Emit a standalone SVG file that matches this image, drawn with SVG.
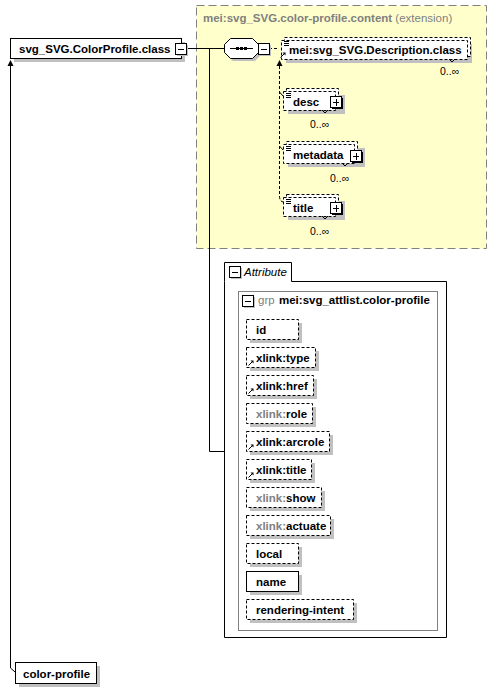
<svg xmlns="http://www.w3.org/2000/svg" width="499" height="692" viewBox="0 0 499 692">
<style>
text{font-family:"Liberation Sans",Arial,sans-serif;font-size:11.5px;fill:#000}
.b{font-weight:bold}
.g{fill:#808080}
.card{font-size:10.5px}
.box{fill:#fff;stroke:#000;stroke-width:1}
.dbox{fill:#fff;stroke:#000;stroke-width:1;stroke-dasharray:3,2}
.sh{fill:#c0c0c0}
.btn{fill:#fff;stroke:#000;stroke-width:1}
.ln{stroke:#000;stroke-width:1;fill:none}
.dl{stroke:#000;stroke-width:1;fill:none;stroke-dasharray:3,2}
</style>
<defs>
<g id="minus"><rect class="sh" x="2" y="2" width="11" height="11"/><rect class="btn" x="0.5" y="0.5" width="11" height="11"/><path class="ln" d="M3,6.5H9"/></g>
<g id="plus"><rect x="2" y="2" width="11" height="11" fill="#000"/><rect class="btn" x="0.5" y="0.5" width="11" height="11"/><path class="ln" d="M3,6.5H9M6.5,3V10"/></g>
<g id="lst"><path class="ln" d="M0,0.5H5M0,2.5H5M0,4.5H5"/></g>
<g id="ref"><path class="ln" d="M0.5,5.5L4,2"/><path d="M2.5,0.5H5.5V3.5Z" fill="#000"/></g>
<g id="tick"><path class="ln" d="M0,0L3,3L6,0"/></g>
</defs>

<!-- yellow content area -->
<g id="content">
<rect x="196.5" y="5.5" width="290" height="243" fill="#ffffcc" stroke="#808080" stroke-dasharray="8,4"/>
<text x="203" y="22" class="g"><tspan class="b">mei:svg_SVG.color-profile.content</tspan> (extension)</text>
</g>

<!-- connectors -->
<g id="connectors">
<path class="ln" d="M187,48.5H224"/>
<path class="ln" d="M209.5,48.5V451.5H224"/>
<path class="dl" d="M269,48.5H278"/>
<path class="dl" d="M279.5,66V196Q279.5,202 284,202"/>
<path class="ln" d="M279.5,92L283,96"/>
<path class="ln" d="M279.5,146L283,150"/>
<path d="M279.5,60L276.5,66H282.5Z" fill="#000"/>
<path class="ln" d="M10.5,66V668L15,672"/>
<path d="M10.5,60L7.5,66H13.5Z" fill="#000"/>
</g>

<!-- main node -->
<g id="n-main">
<rect class="sh" x="14" y="42" width="171" height="20"/>
<rect class="box" x="10.5" y="38.5" width="171" height="20"/>
<text x="19" y="52.5" class="b">svg_SVG.ColorProfile.class</text>
<use href="#minus" x="175" y="43"/>
</g>

<!-- sequence compositor -->
<g id="n-seq">
<polygon class="sh" points="233,41 255,41 261,47 261,55 255,61 233,61 227,55 227,47"/>
<polygon fill="#fff" stroke="#000" points="230.5,38.5 252.5,38.5 258.5,44.5 258.5,52.5 252.5,58.5 230.5,58.5 224.5,52.5 224.5,44.5"/>
<path class="ln" d="M230,48.5H253"/>
<rect x="236" y="47" width="3" height="3" fill="#000"/>
<rect x="240" y="47" width="3" height="3" fill="#000"/>
<rect x="244" y="47" width="3" height="3" fill="#000"/>
<use href="#minus" x="258" y="43"/>
</g>

<!-- Description.class -->
<g id="n-descclass">
<rect class="sh" x="286" y="44" width="186" height="19"/>
<rect class="dbox" x="284.5" y="37.5" width="186" height="19"/>
<rect class="dbox" x="281.5" y="40.5" width="186" height="19"/>
<use href="#lst" x="284" y="41"/>
<use href="#ref" x="280" y="52"/>
<text x="289" y="54" class="b">mei:svg_SVG.Description.class</text>
<use href="#tick" x="449" y="59"/>
<text x="440" y="75" class="card">0..∞</text>
</g>

<!-- desc -->
<g id="n-desc">
<rect class="sh" x="288" y="95" width="57" height="19"/>
<rect class="dbox" x="286.5" y="88.5" width="52" height="19"/>
<rect class="dbox" x="283.5" y="91.5" width="52" height="19"/>
<use href="#lst" x="286" y="93"/>
<text x="293" y="105.5" class="b">desc</text>
<use href="#plus" x="330" y="96"/>
<use href="#tick" x="322" y="110"/>
<text x="310" y="128" class="card">0..∞</text>
</g>

<!-- metadata -->
<g id="n-metadata">
<rect class="sh" x="288" y="148" width="77" height="19"/>
<rect class="dbox" x="286.5" y="141.5" width="71" height="19"/>
<rect class="dbox" x="283.5" y="144.5" width="71" height="19"/>
<use href="#lst" x="286" y="146"/>
<text x="293" y="159" class="b">metadata</text>
<use href="#plus" x="350" y="150"/>
<use href="#tick" x="342" y="163"/>
<text x="330" y="182" class="card">0..∞</text>
</g>

<!-- title -->
<g id="n-title">
<rect class="sh" x="288" y="201" width="57" height="19"/>
<rect class="dbox" x="286.5" y="194.5" width="52" height="19"/>
<rect class="dbox" x="283.5" y="197.5" width="52" height="19"/>
<use href="#lst" x="286" y="199"/>
<text x="293" y="211.5" class="b">title</text>
<use href="#plus" x="330" y="202"/>
<use href="#tick" x="322" y="216"/>
<text x="310" y="235" class="card">0..∞</text>
</g>

<!-- Attribute panel -->
<g id="n-attributes">
<path fill="#fff" stroke="#000" d="M224.5,281.5V262.5H291.5V281.5H446.5V637.5H224.5Z"/>
<use href="#minus" x="229" y="266"/>
<text x="244" y="276" font-style="italic">Attribute</text>
<rect x="238.5" y="291.5" width="199" height="339" fill="#fff" stroke="#808080"/>
<use href="#minus" x="242" y="295"/>
<text x="258" y="304" class="g">grp</text>
<text x="279" y="304" class="b">mei:svg_attlist.color-profile</text>
</g>

<g id="a-id"><rect class="sh" x="250" y="323" width="52" height="20"/><rect class="dbox" x="246.5" y="319.5" width="52" height="20"/><text x="256" y="333.5" class="b">id</text></g>
<g id="a-type"><rect class="sh" x="250" y="351" width="69" height="20"/><rect class="dbox" x="246.5" y="347.5" width="69" height="20"/><use href="#ref" x="248" y="360"/><text x="256" y="361.5" class="b">xlink:type</text></g>
<g id="a-href"><rect class="sh" x="250" y="379" width="67" height="20"/><rect class="dbox" x="246.5" y="375.5" width="67" height="20"/><use href="#ref" x="248" y="388"/><text x="256" y="389.5" class="b">xlink:href</text></g>
<g id="a-role"><rect class="sh" x="250" y="407" width="66" height="20"/><rect class="dbox" x="246.5" y="403.5" width="66" height="20"/><text x="256" y="417.5" class="b"><tspan class="g">xlink:</tspan>role</text></g>
<g id="a-arcrole"><rect class="sh" x="250" y="435" width="83" height="20"/><rect class="dbox" x="246.5" y="431.5" width="83" height="20"/><use href="#ref" x="248" y="444"/><text x="256" y="445.5" class="b">xlink:arcrole</text></g>
<g id="a-title"><rect class="sh" x="250" y="463" width="65" height="20"/><rect class="dbox" x="246.5" y="459.5" width="65" height="20"/><use href="#ref" x="248" y="472"/><text x="256" y="473.5" class="b">xlink:title</text></g>
<g id="a-show"><rect class="sh" x="250" y="491" width="75" height="20"/><rect class="dbox" x="246.5" y="487.5" width="75" height="20"/><text x="256" y="501.5" class="b"><tspan class="g">xlink:</tspan>show</text></g>
<g id="a-actuate"><rect class="sh" x="250" y="519" width="84" height="20"/><rect class="dbox" x="246.5" y="515.5" width="84" height="20"/><text x="256" y="529.5" class="b"><tspan class="g">xlink:</tspan>actuate</text></g>
<g id="a-local"><rect class="sh" x="250" y="547" width="52" height="20"/><rect class="dbox" x="246.5" y="543.5" width="52" height="20"/><text x="256" y="557.5" class="b">local</text></g>
<g id="a-name"><rect class="sh" x="250" y="575" width="52" height="20"/><rect class="box" x="246.5" y="571.5" width="52" height="20"/><text x="256" y="585.5" class="b">name</text></g>
<g id="a-rendering"><rect class="sh" x="250" y="603" width="107" height="20"/><rect class="dbox" x="246.5" y="599.5" width="107" height="20"/><text x="256" y="613.5" class="b">rendering-intent</text></g>

<!-- color-profile -->
<g id="n-colorprofile">
<rect class="sh" x="19" y="666" width="81" height="21"/>
<rect class="box" x="15.5" y="662.5" width="81" height="21"/>
<text x="23" y="677.5" class="b">color-profile</text>
</g>
</svg>
